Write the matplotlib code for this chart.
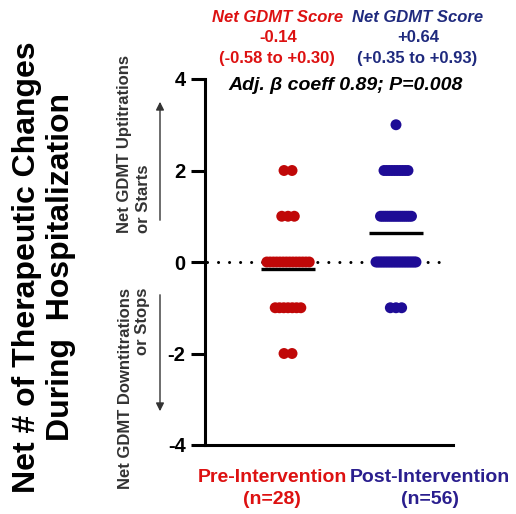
import numpy as np
import matplotlib
matplotlib.use('Agg')
import matplotlib.pyplot as plt

plt.rcParams['font.family'] = ['Liberation Sans', 'DejaVu Sans']

# ---- data ----
values = [3, 2, 1, 0, -1, -2]
pre_counts = [0, 2, 3, 14, 7, 2]
post_counts = [1, 10, 16, 26, 3, 0]
group_names = ['Pre-Intervention', 'Post-Intervention']
group_n_labels = ['(n=28)', '(n=56)']
score_labels = ['-0.14', '+0.64']
ci_labels = ['(-0.58 to +0.30)', '(+0.35 to +0.93)']
yticks = [-4, -2, 0, 2, 4]
stat_text = 'Adj. β coeff 0.89; P=0.008'

# ---- style ----
W, H = 516, 514
RED_M, BLUE_M = '#C00808', '#1E0C96'
RED_T, BLUE_T = '#DD1111', '#1F2A7E'
BLUE_B = '#2A1E8E'

fig = plt.figure(figsize=(W / 100, H / 100), dpi=100)


def fx(px):
    return px / W


def fy(py):
    return 1 - py / H


ax = fig.add_axes([fx(205), fy(445), fx(453) - fx(205), fy(79) - fy(445)])
x0, x1 = 0.231, 2.528
ax.set_xlim(x0, x1)
ax.set_ylim(-4, 4)
px_per_unit = (453 - 205) / (x1 - x0)

# dotted zero line
ax.plot([x0 + 0.02, 2.48], [0, 0], color='black', lw=2.2, linestyle=(0, (0.01, 3.6)),
        dash_capstyle='round', zorder=1, clip_on=False)

# (x position, counts, colour, spread scale, spread exponent)
groups = [(1, pre_counts, RED_M, 8.0, 0.65), (2, post_counts, BLUE_M, 8.0, 0.5)]
for xpos, counts, col, c, p in groups:
    for v, n in zip(values, counts):
        if n == 0:
            continue
        span_px = min(43.0, c * (n - 1) ** p)
        offs = np.linspace(-span_px / 2, span_px / 2, n) / px_per_unit
        ax.scatter(xpos + offs, [v] * n, s=62, color=col, edgecolors='none',
                   zorder=3, clip_on=False)
    m = sum(v * n for v, n in zip(values, counts)) / sum(counts)
    ax.plot([xpos - 0.25, xpos + 0.25], [m, m], color='black', lw=2.4,
            solid_capstyle='butt', zorder=4)

for s in ['top', 'right']:
    ax.spines[s].set_visible(False)
for s in ['left', 'bottom']:
    ax.spines[s].set_linewidth(2.2)
ax.set_xticks([])
ax.set_yticks(yticks)
ax.set_yticklabels([str(t) for t in yticks])
ax.tick_params(axis='y', length=10, width=2.2, labelsize=14.5, pad=4)
for lbl in ax.get_yticklabels():
    lbl.set_fontweight('bold')

# y-axis title
fig.text(fx(44), fy(267), 'Net # of Therapeutic Changes\nDuring  Hospitalization',
         rotation=90, ha='center', va='center', multialignment='center',
         fontsize=23, fontweight='bold', linespacing=1.15)

# inner annotations
fig.text(fx(134), fy(233), 'Net GDMT Uptitrations\nor Starts', rotation=90,
         ha='center', va='bottom', multialignment='left', fontsize=12,
         fontweight='bold', color='#333333', linespacing=1.25)
fig.text(fx(134), fy(288), 'Net GDMT Downtitrations\nor Stops', rotation=90,
         ha='center', va='top', multialignment='right', fontsize=12,
         fontweight='bold', color='#333333', linespacing=1.25)
arrow_kw = dict(arrowstyle='-|>', color='#333333', lw=1.0, mutation_scale=12)
ax.annotate('', xy=(fx(160), fy(99)), xytext=(fx(160), fy(223)),
            xycoords='figure fraction', textcoords='figure fraction',
            arrowprops=arrow_kw, annotation_clip=False)
ax.annotate('', xy=(fx(160), fy(414)), xytext=(fx(160), fy(292)),
            xycoords='figure fraction', textcoords='figure fraction',
            arrowprops=arrow_kw, annotation_clip=False)

# top score labels
for cx, col, sc, ci in [(278, RED_T, score_labels[0], ci_labels[0]),
                        (418, BLUE_T, score_labels[1], ci_labels[1])]:
    fig.text(fx(cx), fy(17), 'Net GDMT Score', ha='center', va='center',
             fontsize=12, fontweight='bold', style='italic', color=col)
    fig.text(fx(cx), fy(38), sc, ha='center', va='center', fontsize=12,
             fontweight='bold', color=col)
    fig.text(fx(cx - 1), fy(58), ci, ha='center', va='center', fontsize=12,
             fontweight='bold', color=col)

fig.text(fx(346), fy(85), stat_text, ha='center', va='center', fontsize=14,
         fontweight='bold', style='italic', color='black')

# bottom group labels
for cx, col, name, nl in [(272, RED_T, group_names[0], group_n_labels[0]),
                          (430, BLUE_B, group_names[1], group_n_labels[1])]:
    fig.text(fx(cx), fy(477), name, ha='center', va='center', fontsize=14,
             fontweight='bold', color=col)
    fig.text(fx(cx), fy(500), nl, ha='center', va='center', fontsize=14,
             fontweight='bold', color=col)

fig.savefig('out.png', dpi=100)
